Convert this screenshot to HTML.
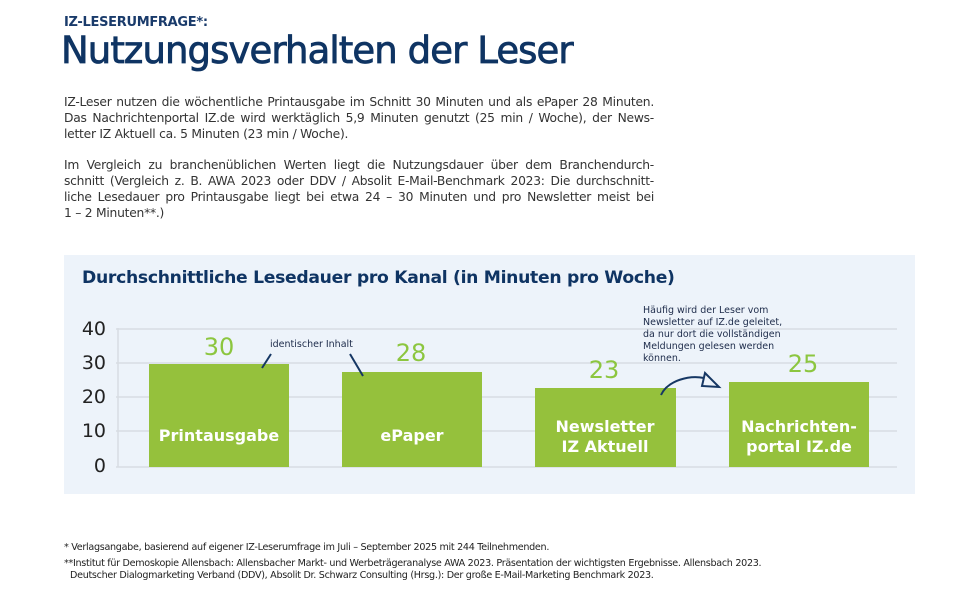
<!DOCTYPE html>
<html><head><meta charset="utf-8"><style>
body{margin:0;width:980px;height:594px;background:#fff;font-family:"DejaVu Sans","Liberation Sans",sans-serif;overflow:hidden;position:relative;color:#1d2b4a}
.a{position:absolute;white-space:nowrap}
.j{position:absolute;left:64px;width:590px;text-align:justify;text-align-last:justify;font-size:12.3px;color:#333;white-space:nowrap;letter-spacing:-0.25px}
.fn{position:absolute;font-size:9.6px;color:#222;white-space:nowrap;letter-spacing:-0.3px}
</style></head><body>
<div class="a" style="left:64px;top:15px;font-size:13px;font-weight:bold;color:#1a3b6b;letter-spacing:-0.3px">IZ-LESERUMFRAGE*:</div>
<div class="a" style="left:61px;top:29px;font-size:37px;color:#0f3463;letter-spacing:-0.9px;-webkit-text-stroke:0.8px #0f3463">Nutzungsverhalten der Leser</div>
<div class="j" style="top:95px">IZ-Leser nutzen die wöchentliche Printausgabe im Schnitt 30 Minuten und als ePaper 28 Minuten.</div>
<div class="j" style="top:111px">Das Nachrichtenportal IZ.de wird werktäglich 5,9 Minuten genutzt (25 min / Woche), der News-</div>
<div class="a" style="left:64px;top:127px;font-size:12.3px;color:#333;letter-spacing:-0.25px">letter IZ Aktuell ca. 5 Minuten (23 min / Woche).</div>
<div class="j" style="top:158px">Im Vergleich zu branchenüblichen Werten liegt die Nutzungsdauer über dem Branchendurch-</div>
<div class="j" style="top:174px">schnitt (Vergleich z. B. AWA 2023 oder DDV / Absolit E-Mail-Benchmark 2023: Die durchschnitt-</div>
<div class="j" style="top:190px">liche Lesedauer pro Printausgabe liegt bei etwa 24 – 30 Minuten und pro Newsletter meist bei</div>
<div class="a" style="left:64px;top:206px;font-size:12.3px;color:#333;letter-spacing:-0.25px">1 – 2 Minuten**.)</div>

<div style="position:absolute;left:64px;top:255px;width:851px;height:239px;background:#edf3fa"></div>
<div class="a" style="left:82px;top:268px;font-size:17.2px;font-weight:bold;color:#0f3463;letter-spacing:-0.3px">Durchschnittliche Lesedauer pro Kanal (in Minuten pro Woche)</div>
<svg width="980" height="594" style="position:absolute;left:0;top:0" font-family="DejaVu Sans, Liberation Sans, sans-serif">
<g stroke="#d8dde3" stroke-width="1.5">
<line x1="116" y1="329" x2="897" y2="329"/><line x1="116" y1="363" x2="897" y2="363"/><line x1="116" y1="397" x2="897" y2="397"/><line x1="116" y1="431" x2="897" y2="431"/><line x1="116" y1="467" x2="897" y2="467"/>
<line x1="118" y1="328" x2="118" y2="467"/>
</g>
<g font-size="19" fill="#222" text-anchor="end">
<text x="106" y="335">40</text><text x="106" y="369">30</text><text x="106" y="403">20</text><text x="106" y="437">10</text><text x="106" y="472">0</text>
</g>
<g fill="#95c13c">
<rect x="149" y="364" width="140" height="103"/><rect x="342" y="372" width="140" height="95"/><rect x="535" y="388" width="141" height="79"/><rect x="729" y="382" width="140" height="85"/>
</g>
<g font-size="24" fill="#8cc63f" text-anchor="middle">
<text x="219" y="355">30</text><text x="411" y="361">28</text><text x="604" y="378">23</text><text x="803" y="372">25</text>
</g>
<g font-size="16" fill="#fff" font-weight="bold" text-anchor="middle">
<text x="219" y="441">Printausgabe</text><text x="412" y="441">ePaper</text>
<text x="605" y="432">Newsletter</text><text x="605" y="452">IZ Aktuell</text>
<text x="799" y="432">Nachrichten-</text><text x="799" y="452">portal IZ.de</text>
</g>
<g stroke="#163764" stroke-width="2" fill="none">
<line x1="262" y1="368" x2="271" y2="354"/><line x1="350" y1="354" x2="363" y2="376"/>
<path d="M661 395 C668 380 690 375 704 378"/>
<path d="M705 373 L719 387 L702 386 Z" fill="#edf3fa"/>
</g>
<text x="270" y="347" font-size="9.5" fill="#1d2b4a">identischer Inhalt</text>
<g font-size="9.5" fill="#1d2b4a">
<text x="643" y="313">Häufig wird der Leser vom</text><text x="643" y="325">Newsletter auf IZ.de geleitet,</text><text x="643" y="337">da nur dort die vollständigen</text><text x="643" y="349">Meldungen gelesen werden</text><text x="643" y="361">können.</text>
</g>
</svg>
<div class="fn" style="left:64px;top:542px">* Verlagsangabe, basierend auf eigener IZ-Leserumfrage im Juli – September 2025 mit 244 Teilnehmenden.</div>
<div class="fn" style="left:64px;top:558px">**Institut für Demoskopie Allensbach: Allensbacher Markt- und Werbeträgeranalyse AWA 2023. Präsentation der wichtigsten Ergebnisse. Allensbach 2023.</div>
<div class="fn" style="left:70px;top:570px">Deutscher Dialogmarketing Verband (DDV), Absolit Dr. Schwarz Consulting (Hrsg.): Der große E-Mail-Marketing Benchmark 2023.</div>
</body></html>
